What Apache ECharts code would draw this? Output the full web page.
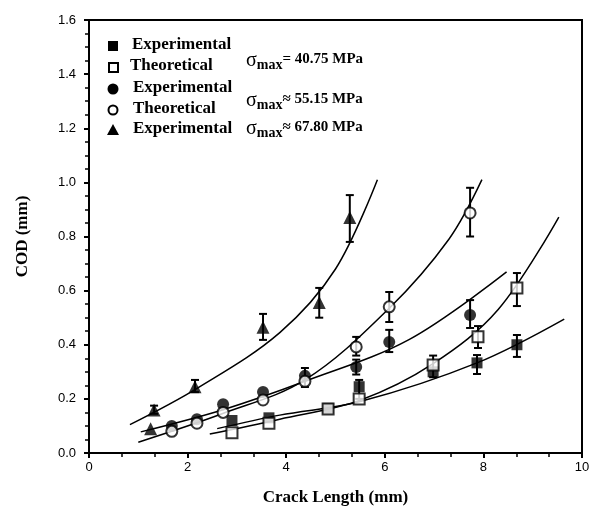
<!DOCTYPE html>
<html lang="en">
<head>
    <meta charset="UTF-8">
    <title>COD vs crack length</title>
    <style>
        html, body { margin: 0; padding: 0; background: #fff; }
        #chart { width: 593px; height: 513px; }
    </style>
</head>
<body>
<div id="chart"></div>
<script src="https://cdn.jsdelivr.net/npm/echarts@6/dist/echarts.min.js"></script>
<script>
    // x ticks / y ticks
    var xTicks = [0, 2, 4, 6, 8, 10];
    var yTicks = [0.0, 0.2, 0.4, 0.6, 0.8, 1.0, 1.2, 1.4, 1.6];

    // sigma_max = 40.75 MPa
    var sq40Exp = [[2.9, 0.12], [3.65, 0.13], [4.85, 0.165], [5.48, 0.245], [6.98, 0.30], [7.87, 0.333], [8.68, 0.40]];
    var sq40Theo = [[2.9, 0.075], [3.65, 0.11], [4.85, 0.163], [5.48, 0.20], [6.98, 0.325], [7.89, 0.43], [8.68, 0.61]];
    // sigma_max = 55.15 MPa
    var circ55Exp = [[1.68, 0.10], [2.19, 0.125], [2.72, 0.18], [3.53, 0.225], [4.38, 0.285], [5.42, 0.318], [6.09, 0.41], [7.73, 0.51]];
    var circ55Theo = [[1.68, 0.08], [2.19, 0.11], [2.72, 0.15], [3.53, 0.196], [4.38, 0.265], [5.42, 0.392], [6.09, 0.54], [7.73, 0.887]];
    // sigma_max = 67.80 MPa
    var tri67Exp = [[1.25, 0.09], [1.32, 0.159], [2.15, 0.245], [3.53, 0.465], [4.67, 0.556], [5.29, 0.87]];

    // fitted curves
    var curveTri = [[0.83, 0.105], [2.2, 0.24], [3.87, 0.445], [5.0, 0.68], [5.85, 1.01]];
    var curveCircTheo = [[1.0, 0.04], [2.7, 0.145], [4.38, 0.27], [6.09, 0.535], [7.3, 0.79], [7.97, 1.01]];
    var curveCircExp = [[1.05, 0.078], [2.72, 0.16], [4.38, 0.265], [6.5, 0.42], [8.47, 0.669]];
    var curveSqTheo = [[2.45, 0.07], [3.87, 0.125], [5.5, 0.195], [6.98, 0.33], [8.3, 0.53], [9.53, 0.872]];
    var curveSqExp = [[2.6, 0.09], [3.87, 0.14], [5.5, 0.19], [7.87, 0.333], [9.64, 0.495]];

    // error bars [x, low, high]
    var errBars = [
        [1.32, 0.145, 0.175], [2.15, 0.225, 0.27], [3.53, 0.418, 0.514], [4.67, 0.50, 0.61], [5.29, 0.78, 0.953],
        [4.38, 0.244, 0.314], [5.42, 0.36, 0.429], [6.09, 0.484, 0.595], [7.73, 0.80, 0.98],
        [5.42, 0.29, 0.345], [6.09, 0.373, 0.455], [7.73, 0.462, 0.565],
        [5.48, 0.20, 0.27], [6.98, 0.28, 0.36], [7.87, 0.292, 0.362], [7.89, 0.388, 0.469],
        [8.68, 0.355, 0.436], [8.68, 0.543, 0.665]
    ];

    var serif = '"Liberation Serif", "DejaVu Serif", serif';
    var sans = '"Liberation Sans", Arial, sans-serif';

    function curve(data) {
        return {
            type: 'line', data: data, showSymbol: false, smooth: 0.35,
            lineStyle: {color: '#000', width: 1.5}, z: 2, silent: true
        };
    }

    function marks(data, symbol, filled, size) {
        return {
            type: 'scatter', data: data, symbol: symbol, symbolSize: size,
            itemStyle: filled ? {color: '#000'} : {color: '#fff', borderColor: '#000', borderWidth: 2},
            z: 4
        };
    }

    var sigmaRich = {
        s: {font: '20px ' + serif, fill: '#000'},
        m: {font: 'bold 14px ' + serif, fill: '#000', padding: [8, 0, 0, 0]},
        t: {font: 'bold 15px ' + serif, fill: '#000', padding: [0, 0, 3, 0]}
    };

    var myChart = echarts.init(document.getElementById('chart'));
    myChart.setOption({
        animation: false,
        backgroundColor: '#fff',
        grid: {left: 89, right: 11, top: 20, bottom: 60, show: true, borderColor: '#000', borderWidth: 2},
        xAxis: {
            type: 'value', min: 0, max: 10, interval: 2,
            name: 'Crack Length (mm)', nameLocation: 'middle', nameGap: 36,
            nameTextStyle: {fontFamily: serif, fontWeight: 'bold', fontSize: 17, color: '#000'},
            axisLine: {lineStyle: {color: '#000', width: 2}},
            axisTick: {length: 5, lineStyle: {color: '#000', width: 2}},
            minorTick: {show: true, splitNumber: 3, length: 4, lineStyle: {color: '#000', width: 1.5}},
            axisLabel: {fontFamily: sans, fontSize: 13, color: '#000', margin: 8,
                formatter: function (v) { return xTicks.indexOf(v) >= 0 ? String(v) : ''; }},
            splitLine: {show: false}
        },
        yAxis: {
            type: 'value', min: 0, max: 1.6, interval: 0.2,
            name: 'COD (mm)', nameLocation: 'middle', nameGap: 58, nameRotate: 90,
            nameTextStyle: {fontFamily: serif, fontWeight: 'bold', fontSize: 17, color: '#000'},
            axisLine: {lineStyle: {color: '#000', width: 2}},
            axisTick: {length: 5, lineStyle: {color: '#000', width: 2}},
            minorTick: {show: true, splitNumber: 4, length: 4, lineStyle: {color: '#000', width: 1.5}},
            axisLabel: {fontFamily: sans, fontSize: 13, color: '#000', margin: 13,
                formatter: function (v) { return v.toFixed(1); }},
            splitLine: {show: false}
        },
        series: [
            curve(curveTri), curve(curveCircTheo), curve(curveCircExp), curve(curveSqTheo), curve(curveSqExp),
            {
                type: 'custom', data: errBars, z: 3,
                renderItem: function (params, api) {
                    var x = api.value(0);
                    var lo = api.coord([x, api.value(1)]);
                    var hi = api.coord([x, api.value(2)]);
                    var w = 4;
                    var st = {stroke: '#000', lineWidth: 2};
                    return {
                        type: 'group', children: [
                            {type: 'line', shape: {x1: lo[0], y1: lo[1], x2: hi[0], y2: hi[1]}, style: st},
                            {type: 'line', shape: {x1: lo[0] - w, y1: lo[1], x2: lo[0] + w, y2: lo[1]}, style: st},
                            {type: 'line', shape: {x1: hi[0] - w, y1: hi[1], x2: hi[0] + w, y2: hi[1]}, style: st}
                        ]
                    };
                }
            },
            marks(sq40Exp, 'rect', true, 11),
            marks(sq40Theo, 'rect', false, 11),
            marks(circ55Exp, 'circle', true, 12),
            marks(circ55Theo, 'circle', false, 11),
            marks(tri67Exp, 'triangle', true, 13)
        ],
        graphic: [
            {type: 'rect', shape: {x: 108, y: 41, width: 10, height: 10}, style: {fill: '#000'}},
            {type: 'rect', shape: {x: 109, y: 63, width: 9, height: 9}, style: {fill: '#fff', stroke: '#000', lineWidth: 2}},
            {type: 'circle', shape: {cx: 113, cy: 89, r: 5.5}, style: {fill: '#000'}},
            {type: 'circle', shape: {cx: 113, cy: 110, r: 4.5}, style: {fill: '#fff', stroke: '#000', lineWidth: 2}},
            {type: 'polygon', shape: {points: [[113, 124], [107, 135], [119, 135]]}, style: {fill: '#000'}},
            {type: 'text', left: 132, top: 36, style: {text: 'Experimental', font: 'bold 17px ' + serif, fill: '#000'}},
            {type: 'text', left: 130, top: 57, style: {text: 'Theoretical', font: 'bold 17px ' + serif, fill: '#000'}},
            {type: 'text', left: 133, top: 79, style: {text: 'Experimental', font: 'bold 17px ' + serif, fill: '#000'}},
            {type: 'text', left: 133, top: 100, style: {text: 'Theoretical', font: 'bold 17px ' + serif, fill: '#000'}},
            {type: 'text', left: 133, top: 120, style: {text: 'Experimental', font: 'bold 17px ' + serif, fill: '#000'}},
            {type: 'text', left: 246, top: 51, style: {text: '{s|σ}{m|max}{t|= 40.75 MPa}', rich: sigmaRich}},
            {type: 'text', left: 246, top: 91, style: {text: '{s|σ}{m|max}{t|≈ 55.15 MPa}', rich: sigmaRich}},
            {type: 'text', left: 246, top: 119, style: {text: '{s|σ}{m|max}{t|≈ 67.80 MPa}', rich: sigmaRich}}
        ]
    });
</script>
</body>
</html>
